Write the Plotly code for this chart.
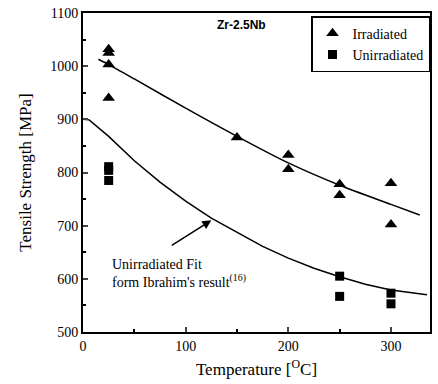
import plotly.graph_objects as go

# Data
irr_T = [25, 25, 25, 25, 150, 200, 200, 250, 250, 300, 300]
irr_S = [1032, 1025, 1003, 940, 866, 833, 806, 778, 757, 780, 702]

unirr_T = [25, 25, 25, 250, 250, 300, 300]
unirr_S = [811, 804, 785, 605, 567, 573, 553]

fit_irr_T = [15, 25, 50, 100, 150, 200, 250, 300, 328]
fit_irr_S = [1013, 1003, 976, 921, 868, 818, 776, 740, 720]

fit_un_T = [0, 6, 25, 50, 75, 100, 125, 150, 175, 200, 225, 250, 275, 300, 335]
fit_un_S = [900, 899, 868, 822, 782, 746, 714, 687, 661, 639, 620, 604, 590, 579, 570]

serif = "Liberation Serif"

fig = go.Figure()
fig.add_trace(go.Scatter(x=fit_irr_T, y=fit_irr_S, mode="lines", line=dict(color="black", width=1.5, shape="spline", smoothing=0.8), showlegend=False))
fig.add_trace(go.Scatter(x=fit_un_T, y=fit_un_S, mode="lines", line=dict(color="black", width=1.5), showlegend=False))
fig.add_trace(go.Scatter(x=irr_T, y=irr_S, mode="markers", name="Irradiated",
                         marker=dict(symbol="triangle-up", color="black", size=11)))
fig.add_trace(go.Scatter(x=unirr_T, y=unirr_S, mode="markers", name="Unirradiated",
                         marker=dict(symbol="square", color="black", size=9)))

fig.update_layout(
    width=438, height=384,
    margin=dict(l=83, r=6, t=10, b=52),
    paper_bgcolor="white", plot_bgcolor="white",
    font=dict(family=serif, color="black", size=13),
    legend=dict(x=1, y=0.99, xanchor="right", yanchor="top",
                bordercolor="black", borderwidth=1.5, bgcolor="white",
                font=dict(family=serif, size=14), itemwidth=30,
                tracegroupgap=0, traceorder="normal"),
    xaxis=dict(range=[0, 338], tickvals=[0, 100, 200, 300], ticks="inside", ticklen=5,
               tickwidth=1.5, showline=True, linecolor="black", linewidth=2, mirror=True,
               showgrid=False, zeroline=False,
               minor=dict(tickvals=[50, 150, 250], ticks="inside", ticklen=3, tickcolor="black"),
               tickfont=dict(family=serif, size=14),
               title=dict(text="Temperature [<sup>O</sup>C]", font=dict(family=serif, size=17), standoff=10)),
    yaxis=dict(range=[500, 1100], tickvals=[500, 600, 700, 800, 900, 1000, 1100], ticks="inside", ticklen=5,
               tickwidth=1.5, showline=True, linecolor="black", linewidth=2, mirror=True,
               showgrid=False, zeroline=False,
               minor=dict(tickvals=[550, 650, 750, 850, 950, 1050], ticks="inside", ticklen=3, tickcolor="black"),
               tickfont=dict(family=serif, size=14),
               title=dict(text="Tensile Strength [MPa]", font=dict(family=serif, size=17), standoff=14)),
)

fig.add_annotation(x=0.38, y=0.99, xref="paper", yref="paper", xanchor="left", yanchor="top",
                   text="<b>Zr-2.5Nb</b>", showarrow=False,
                   font=dict(family="Liberation Sans", size=12))
fig.add_annotation(x=125, y=710, ax=85, ay=661, xref="x", yref="y", axref="x", ayref="y",
                   text="", showarrow=True, arrowhead=2, arrowsize=1.2, arrowwidth=1.5, arrowcolor="black")
fig.add_annotation(x=26, y=645, xref="x", yref="y", xanchor="left", yanchor="top", align="left",
                   text="Unirradiated Fit<br>form Ibrahim's result<sup>(16)</sup>", showarrow=False,
                   font=dict(family=serif, size=14))

fig.write_html("out.html")
